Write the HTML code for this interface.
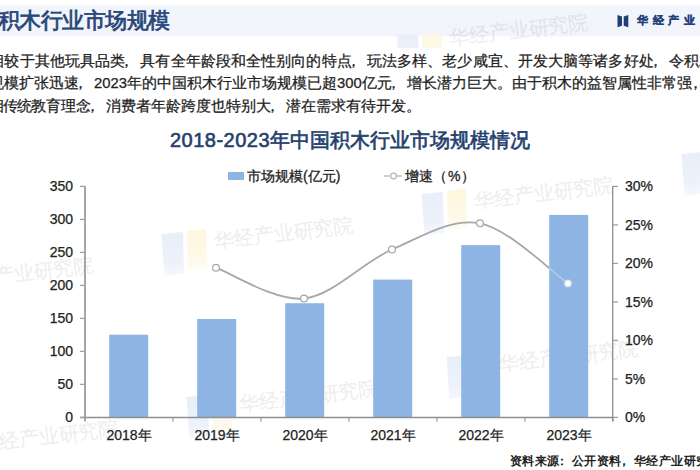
<!DOCTYPE html>
<html><head><meta charset="utf-8">
<style>
html,body{margin:0;padding:0;}
body{width:700px;height:470px;overflow:hidden;position:relative;background:#fff;font-family:"Liberation Sans",sans-serif;}
.abs{position:absolute;white-space:nowrap;}
#band{position:absolute;left:0;top:6px;width:700px;height:29.5px;background:linear-gradient(#f1f6fc,#f3f3fc);box-shadow:0 0 2px #f3f5fc;}
#title{left:-2.5px;top:5px;font-size:22px;letter-spacing:-0.5px;font-weight:normal;-webkit-text-stroke:0.75px #27467a;color:#27467a;line-height:32px;}
#brand{left:637px;top:12px;font-size:11px;font-weight:bold;color:#24427a;letter-spacing:4.7px;line-height:16px;-webkit-text-stroke:0.35px #24427a;}
.body{left:-9.5px;font-size:14.8px;color:#222;line-height:20px;-webkit-text-stroke:0.25px #222;}
.d{letter-spacing:0px;}
.pc{position:relative;left:-6px;}
.pf{position:relative;left:-4px;}
#ctitle{left:0;width:700px;text-align:center;top:126px;font-size:20px;font-weight:normal;color:#243f6e;-webkit-text-stroke:0.65px #243f6e;line-height:28px;}
.leg{font-size:14px;color:#222;line-height:16px;-webkit-text-stroke:0.3px #222;}
.td{font-weight:normal;-webkit-text-stroke:0.6px #243f6e;letter-spacing:0.5px;}
.yl{font-size:14px;color:#222;line-height:16px;text-align:right;width:40px;-webkit-text-stroke:0.25px #222;}
.yr{font-size:14px;color:#222;line-height:16px;-webkit-text-stroke:0.25px #222;}
.xl{font-size:14px;color:#222;line-height:16px;text-align:center;width:80px;-webkit-text-stroke:0.25px #222;}
#foot{left:510px;top:452.7px;font-size:12.2px;letter-spacing:0.4px;font-weight:bold;color:#222;line-height:16px;}
</style></head><body>
<div id="band"></div>
<svg class="abs" style="left:0;top:0" width="700" height="470"><defs><linearGradient id="gb" x1="0" y1="0" x2="0" y2="1"><stop offset="0" stop-color="#e8eff9"/><stop offset="0.7" stop-color="#edf2fa"/><stop offset="1" stop-color="#f6f8fd"/></linearGradient><linearGradient id="gy" x1="0" y1="0" x2="0" y2="1"><stop offset="0" stop-color="#fdf7dc"/><stop offset="0.7" stop-color="#fef9e9"/><stop offset="1" stop-color="#fefcf4"/></linearGradient></defs><clipPath id="cf"><rect x="-100" y="7" width="200" height="13"/></clipPath><g transform="translate(-47.0,271.0)" ><polygon points="-51.5,3 -30,1 -29,42 -48.5,45" fill="url(#gb)"/><polygon points="-26,0 -7,-2 -6,37 -25,39" fill="url(#gy)"/></g><g transform="translate(-47.0,271.0) rotate(-7)"><text x="0" y="17.5" font-size="20" font-weight="bold" fill="#000" fill-opacity="0.065">华经产业研究院</text></g><g transform="translate(213.0,231.0)" ><polygon points="-51.5,3 -30,1 -29,42 -48.5,45" fill="url(#gb)"/><polygon points="-26,0 -7,-2 -6,37 -25,39" fill="url(#gy)"/></g><g transform="translate(213.0,231.0) rotate(-7)"><text x="0" y="17.5" font-size="20" font-weight="bold" fill="#000" fill-opacity="0.065">华经产业研究院</text></g><g transform="translate(473.0,191.0)" ><polygon points="-51.5,3 -30,1 -29,42 -48.5,45" fill="url(#gb)"/><polygon points="-26,0 -7,-2 -6,37 -25,39" fill="url(#gy)"/></g><g transform="translate(473.0,191.0) rotate(-7)"><text x="0" y="17.5" font-size="20" font-weight="bold" fill="#000" fill-opacity="0.065">华经产业研究院</text></g><g transform="translate(733.0,151.0)" ><polygon points="-51.5,3 -30,1 -29,42 -48.5,45" fill="url(#gb)"/><polygon points="-26,0 -7,-2 -6,37 -25,39" fill="url(#gy)"/></g><g transform="translate(733.0,151.0) rotate(-7)"><text x="0" y="17.5" font-size="20" font-weight="bold" fill="#000" fill-opacity="0.065">华经产业研究院</text></g><g transform="translate(-22.0,434.0)" ><polygon points="-51.5,3 -30,1 -29,42 -48.5,45" fill="url(#gb)"/><polygon points="-26,0 -7,-2 -6,37 -25,39" fill="url(#gy)"/></g><g transform="translate(-22.0,434.0) rotate(-7)"><text x="0" y="17.5" font-size="20" font-weight="bold" fill="#000" fill-opacity="0.065">华经产业研究院</text></g><g transform="translate(238.0,394.0)" ><polygon points="-51.5,3 -30,1 -29,42 -48.5,45" fill="url(#gb)"/><polygon points="-26,0 -7,-2 -6,37 -25,39" fill="url(#gy)"/></g><g transform="translate(238.0,394.0) rotate(-7)"><text x="0" y="17.5" font-size="20" font-weight="bold" fill="#000" fill-opacity="0.065">华经产业研究院</text></g><g transform="translate(498.0,354.0)" ><polygon points="-51.5,3 -30,1 -29,42 -48.5,45" fill="url(#gb)"/><polygon points="-26,0 -7,-2 -6,37 -25,39" fill="url(#gy)"/></g><g transform="translate(498.0,354.0) rotate(-7)"><text x="0" y="17.5" font-size="20" font-weight="bold" fill="#000" fill-opacity="0.065">华经产业研究院</text></g><g transform="translate(448.0,28.0)" clip-path="url(#cf)"><polygon points="-51.5,3 -30,1 -29,42 -48.5,45" fill="url(#gb)"/><polygon points="-26,0 -7,-2 -6,37 -25,39" fill="url(#gy)"/></g><g transform="translate(448.0,28.0) rotate(-7)"><text x="0" y="17.5" font-size="20" font-weight="bold" fill="#000" fill-opacity="0.065">华经产业研究院</text></g></svg>
<div class="abs" id="title">积木行业市场规模</div>
<svg class="abs" style="left:0;top:0" width="700" height="470">
  <polygon points="617.5,15 622,16.5 622,25.8 617.5,27.2" fill="#1f3f73"/>
  <polygon points="628.3,15 623.7,16.5 623.7,25.8 628.3,27.2" fill="#1f3f73"/>
</svg>
<div class="abs" id="brand">华经产业</div>
<div class="abs body" style="top:51px;left:-10.7px;letter-spacing:0.1px">相较于其他玩具品类<span class="pc">，</span>具有全年龄段和全性别向的特点<span class="pc">，</span>玩法多样、老少咸宜、开发大脑等诸多好处<span class="pc">，</span>令积木</div>
<div class="abs body" style="top:73px;left:-11px">规模扩张迅速<span class="pc">，</span><span class="d">2023</span>年的中国积木行业市场规模已超<span class="d">300</span>亿元<span class="pc">，</span>增长潜力巨大。由于积木的益智属性非常强<span style="position:relative;left:-4px;margin-right:-7px">，</span>符</div>
<div class="abs body" style="top:96px;left:-13.7px"><span style="position:relative;left:2.5px">相</span><span style="position:relative;left:2px">传</span><span style="position:relative;left:1px">统</span>教育理念<span class="pc">，</span>消费者年龄跨度也特别大<span class="pc">，</span>潜在需求有待开发。</div>
<div class="abs" id="ctitle"><span class="td">2018-2023</span>年中国积木行业市场规模情况</div>
<svg class="abs" style="left:0;top:0" width="700" height="470">
  <rect x="228" y="172" width="16" height="8" fill="#8db4e3"/>
  <line x1="384" y1="176" x2="402" y2="176" stroke="#b4b4b4" stroke-width="1.3"/>
  <circle cx="393.5" cy="176" r="2.9" fill="#fff" stroke="#b4b4b4" stroke-width="1.1"/>
  <g fill="#8db4e3"><rect x="109.20" y="334.70" width="39" height="82.70"/><rect x="197.20" y="318.99" width="39" height="98.41"/><rect x="285.20" y="303.22" width="39" height="114.18"/><rect x="373.20" y="279.59" width="39" height="137.81"/><rect x="461.20" y="245.14" width="39" height="172.26"/><rect x="549.20" y="214.91" width="39" height="202.49"/></g>
  <line x1="85" y1="186" x2="85" y2="421" stroke="#9c9c9c" stroke-width="1.8"/>
  <line x1="80" y1="417.4" x2="613" y2="417.4" stroke="#8e8e8e" stroke-width="1.5"/>
  <g stroke="#a0a0a0" stroke-width="1.3" fill="none"><line x1="80" y1="417.40" x2="85" y2="417.40"/><line x1="80" y1="384.40" x2="85" y2="384.40"/><line x1="80" y1="351.40" x2="85" y2="351.40"/><line x1="80" y1="318.40" x2="85" y2="318.40"/><line x1="80" y1="285.40" x2="85" y2="285.40"/><line x1="80" y1="252.40" x2="85" y2="252.40"/><line x1="80" y1="219.40" x2="85" y2="219.40"/><line x1="80" y1="186.40" x2="85" y2="186.40"/><line x1="613" y1="417.40" x2="618" y2="417.40"/><line x1="613" y1="378.90" x2="618" y2="378.90"/><line x1="613" y1="340.40" x2="618" y2="340.40"/><line x1="613" y1="301.90" x2="618" y2="301.90"/><line x1="613" y1="263.40" x2="618" y2="263.40"/><line x1="613" y1="224.90" x2="618" y2="224.90"/><line x1="613" y1="186.40" x2="618" y2="186.40"/><line x1="85.00" y1="417.4" x2="85.00" y2="421.5"/><line x1="173.00" y1="417.4" x2="173.00" y2="421.5"/><line x1="261.00" y1="417.4" x2="261.00" y2="421.5"/><line x1="349.00" y1="417.4" x2="349.00" y2="421.5"/><line x1="437.00" y1="417.4" x2="437.00" y2="421.5"/><line x1="525.00" y1="417.4" x2="525.00" y2="421.5"/><line x1="613.00" y1="417.4" x2="613.00" y2="421.5"/></g>
  <line x1="612.7" y1="186" x2="612.7" y2="421.5" stroke="#8e8e8e" stroke-width="1.3"/>
  <defs><clipPath id="cb"><rect x="549.20" y="0" width="39" height="470"/></clipPath><clipPath id="cn"><rect x="0" y="0" width="549.20" height="470"/></clipPath></defs>
  <path d="M216.00,267.71 C230.67,272.85 274.67,301.54 304.00,298.51 C333.33,295.48 362.67,262.07 392.00,249.54 C421.33,237.01 450.67,217.71 480.00,223.36 C509.33,229.01 553.33,273.41 568.00,283.42" stroke="#a8a8a8" stroke-width="1.8" fill="none" clip-path="url(#cn)"/>
  <path d="M216.00,267.71 C230.67,272.85 274.67,301.54 304.00,298.51 C333.33,295.48 362.67,262.07 392.00,249.54 C421.33,237.01 450.67,217.71 480.00,223.36 C509.33,229.01 553.33,273.41 568.00,283.42" stroke="#b9c6da" stroke-width="1.8" fill="none" clip-path="url(#cb)"/>
  <g fill="#fff" stroke="#a6a6a6" stroke-width="1.2"><circle cx="216.00" cy="267.71" r="3.4"/><circle cx="304.00" cy="298.51" r="3.4"/><circle cx="392.00" cy="249.54" r="3.4"/><circle cx="480.00" cy="223.36" r="3.4"/></g>
  <g fill="#fff" stroke="#c9d5e8" stroke-width="1.2"><circle cx="568.00" cy="283.42" r="3.4"/></g>
</svg>
<div class="abs yl" style="left:33px;top:408.90px">0</div>
<div class="abs yl" style="left:33px;top:375.90px">50</div>
<div class="abs yl" style="left:33px;top:342.90px">100</div>
<div class="abs yl" style="left:33px;top:309.90px">150</div>
<div class="abs yl" style="left:33px;top:276.90px">200</div>
<div class="abs yl" style="left:33px;top:243.90px">250</div>
<div class="abs yl" style="left:33px;top:210.90px">300</div>
<div class="abs yl" style="left:33px;top:177.90px">350</div>
<div class="abs yr" style="left:625px;top:409.40px">0%</div>
<div class="abs yr" style="left:625px;top:370.90px">5%</div>
<div class="abs yr" style="left:625px;top:332.40px">10%</div>
<div class="abs yr" style="left:625px;top:293.90px">15%</div>
<div class="abs yr" style="left:625px;top:255.40px">20%</div>
<div class="abs yr" style="left:625px;top:216.90px">25%</div>
<div class="abs yr" style="left:625px;top:178.40px">30%</div>
<div class="abs xl" style="left:89.00px;top:427px">2018年</div>
<div class="abs xl" style="left:177.00px;top:427px">2019年</div>
<div class="abs xl" style="left:265.00px;top:427px">2020年</div>
<div class="abs xl" style="left:353.00px;top:427px">2021年</div>
<div class="abs xl" style="left:441.00px;top:427px">2022年</div>
<div class="abs xl" style="left:529.00px;top:427px">2023年</div>

<div class="abs leg" style="left:247px;top:168px">市场规模(亿元)</div>
<div class="abs leg" style="left:405px;top:168px">增速<span style="letter-spacing:1px">（%）</span></div>
<div class="abs" id="foot">资料来源<span class="pf">：</span>公开资料<span class="pf">，</span>华经产业研究院</div>
</body></html>
